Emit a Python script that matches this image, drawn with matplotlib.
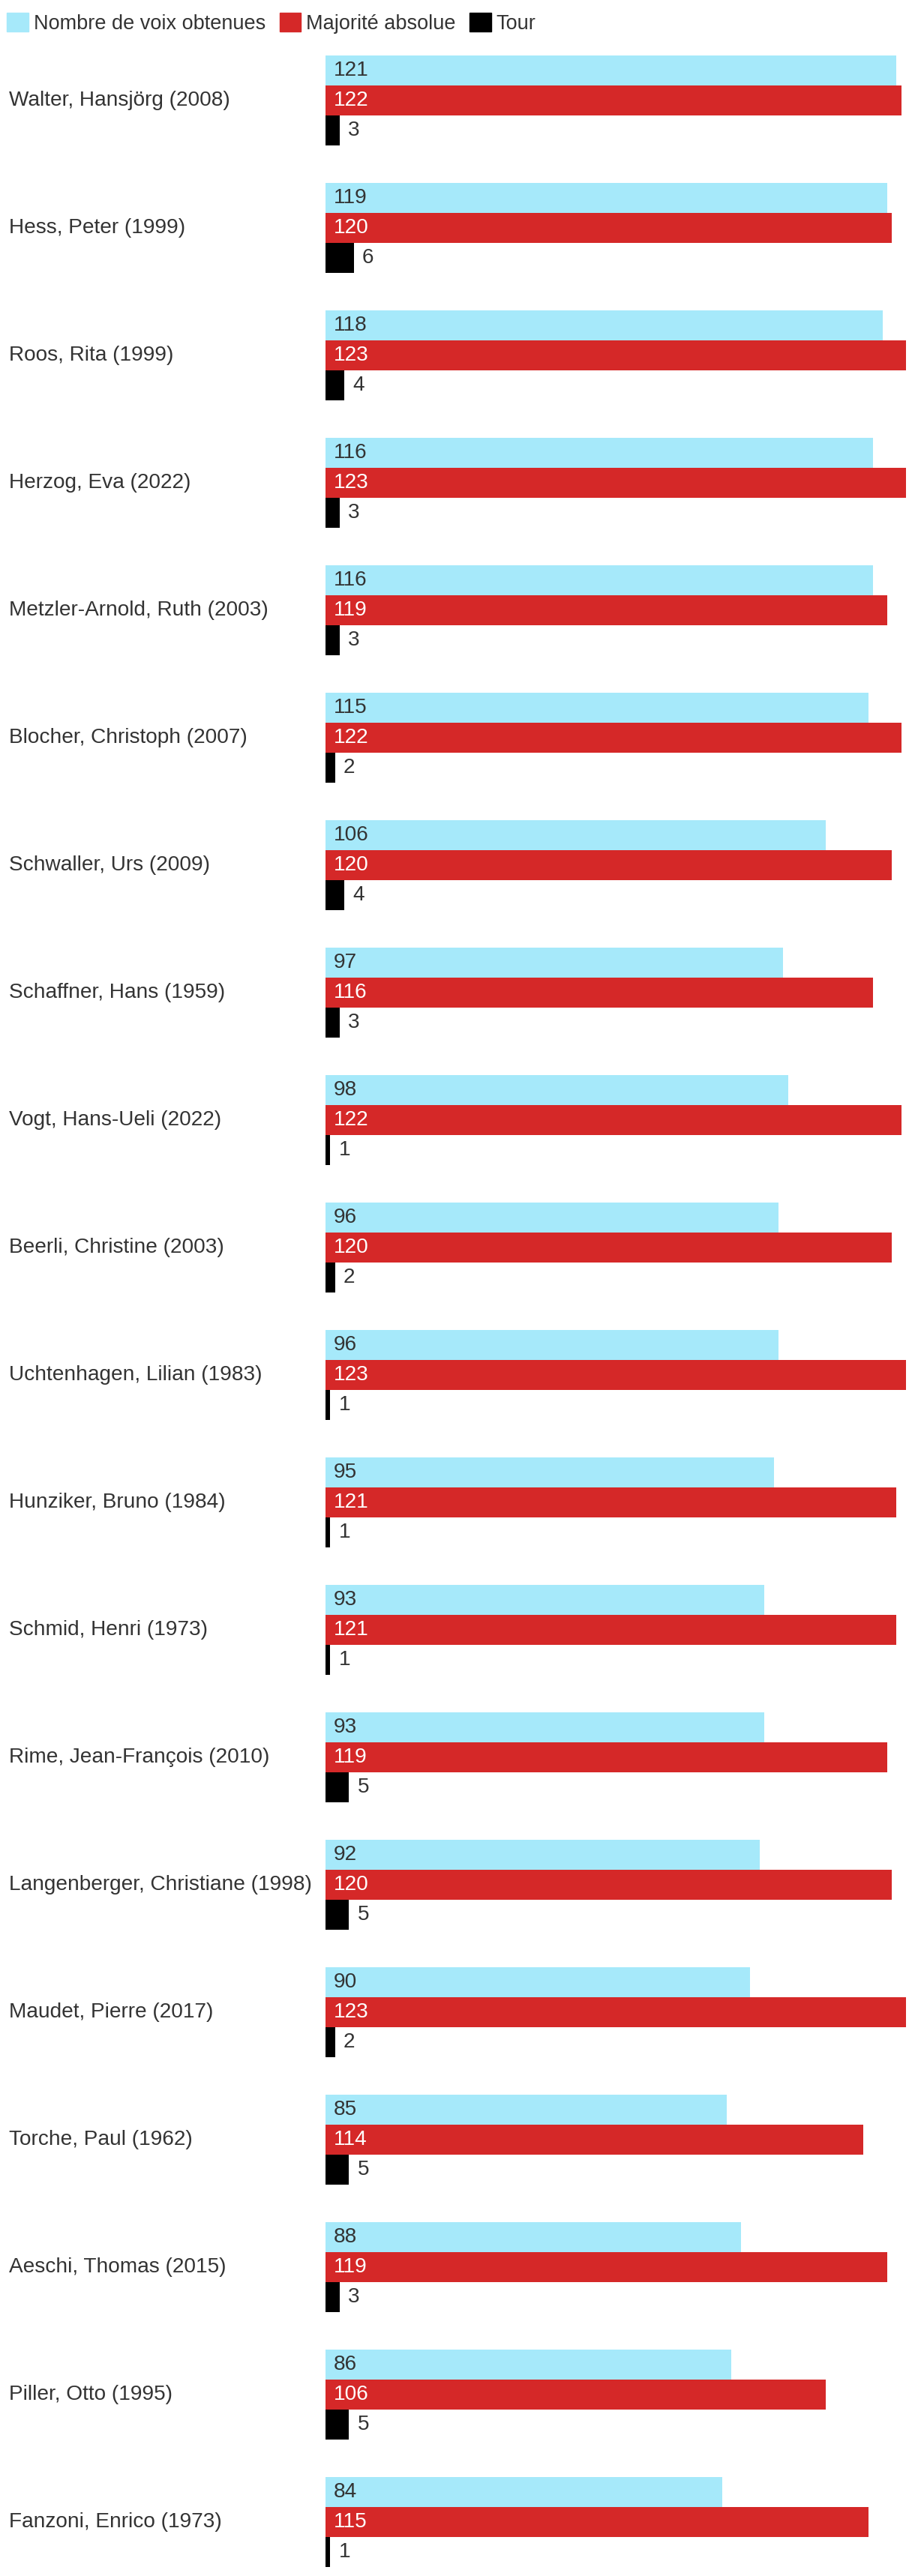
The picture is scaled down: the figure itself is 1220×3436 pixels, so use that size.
import numpy as np
import matplotlib.pyplot as plt
from matplotlib.patches import Patch

names = ["Walter, Hansjörg (2008)", "Hess, Peter (1999)", "Roos, Rita (1999)",
         "Herzog, Eva (2022)", "Metzler-Arnold, Ruth (2003)", "Blocher, Christoph (2007)",
         "Schwaller, Urs (2009)", "Schaffner, Hans (1959)", "Vogt, Hans-Ueli (2022)",
         "Beerli, Christine (2003)", "Uchtenhagen, Lilian (1983)", "Hunziker, Bruno (1984)",
         "Schmid, Henri (1973)", "Rime, Jean-François (2010)", "Langenberger, Christiane (1998)",
         "Maudet, Pierre (2017)", "Torche, Paul (1962)", "Aeschi, Thomas (2015)",
         "Piller, Otto (1995)", "Fanzoni, Enrico (1973)"]
voix = [121, 119, 118, 116, 116, 115, 106, 97, 98, 96, 96, 95, 93, 93, 92, 90, 85, 88, 86, 84]
majorite = [122, 120, 123, 123, 119, 122, 120, 116, 122, 120, 123, 121, 121, 119, 120, 123, 114, 119, 106, 115]
tour = [3, 6, 4, 3, 3, 2, 4, 3, 1, 2, 1, 1, 1, 5, 5, 2, 5, 3, 5, 1]

c_voix = "#a6e9fa"
c_maj = "#d52828"
c_tour = "#000000"
txt = "#333333"

plt.rcParams['font.family'] = ['Liberation Sans', 'DejaVu Sans']

W, H = 1220, 3436
fig = plt.figure(figsize=(W / 100, H / 100), dpi=100)

pitch = 170.0
first_c = 134.0
top_px = 60.0
ax = fig.add_axes([434 / W, 0, 774 / W, (H - top_px) / H])
ax.set_xlim(0, 123)
ax.set_ylim((H - first_c) / pitch, -(first_c - top_px) / pitch)
ax.axis("off")

y = np.arange(len(names))
bh = 40 / pitch
ax.barh(y - bh, voix, height=bh, color=c_voix)
ax.barh(y, majorite, height=bh, color=c_maj)
ax.barh(y + bh, tour, height=bh, color=c_tour)

fs = 20.2
for i in range(len(names)):
    ax.annotate(str(voix[i]), (0, y[i] - bh), xytext=(8, 0), textcoords="offset points",
                va="center", ha="left", fontsize=fs, color=txt)
    ax.annotate(str(majorite[i]), (0, y[i]), xytext=(8, 0), textcoords="offset points",
                va="center", ha="left", fontsize=fs, color="white")
    ax.annotate(str(tour[i]), (tour[i], y[i] + bh), xytext=(8, 0), textcoords="offset points",
                va="center", ha="left", fontsize=fs, color=txt)
    ax.annotate(names[i], (0, y[i]), xycoords=("figure pixels", "data"),
                xytext=(12, 0), textcoords="offset pixels",
                va="center", ha="left", fontsize=fs, color=txt)

handles = [Patch(color=c_voix, label="Nombre de voix obtenues"),
           Patch(color=c_maj, label="Majorité absolue"),
           Patch(color=c_tour, label="Tour")]
fig.legend(handles=handles, loc="center left", bbox_to_anchor=(4 / W, 1 - 31 / H),
           ncol=3, frameon=False, fontsize=19.5, handlelength=1.05, handleheight=1.05,
           handletextpad=0.25, columnspacing=0.7, borderaxespad=0, borderpad=0.2,
           labelcolor=txt)

fig.savefig("out.png", dpi=100)
